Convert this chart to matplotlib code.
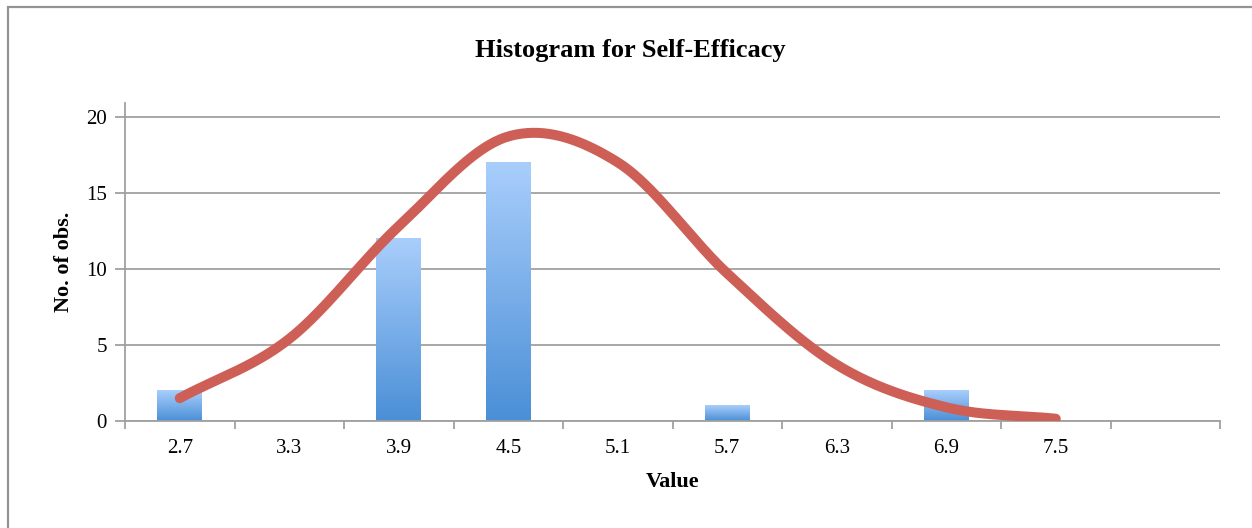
import numpy as np
import matplotlib
matplotlib.use("Agg")
import matplotlib.pyplot as plt
from matplotlib.patches import Rectangle
from matplotlib.colors import LinearSegmentedColormap

categories = ["2.7", "3.3", "3.9", "4.5", "5.1", "5.7", "6.3", "6.9", "7.5", ""]
counts = [2, 0, 12, 17, 0, 1, 0, 2, 0, 0]
curve_vals = [1.5, 5.4, 12.8, 18.7, 17.0, 9.7, 3.7, 0.9, 0.15]

plt.rcParams['font.family'] = ['Liberation Serif', 'DejaVu Serif']

fig = plt.figure(figsize=(12.52, 5.28), dpi=100)
W, H = 1252, 528
ax = fig.add_axes([125 / W, (H - 421) / H, (1220 - 125) / W, (421 - 103) / H])

x = np.arange(len(categories))
bars = ax.bar(x, counts, width=0.41, color='none', zorder=2)
cmap = LinearSegmentedColormap.from_list('g', ['#4a8fd6', '#a9cefc'])
grad = np.linspace(0, 1, 256).reshape(-1, 1)
for b in bars:
    h = b.get_height()
    if h <= 0:
        continue
    x0 = b.get_x()
    ax.imshow(grad, cmap=cmap, origin='lower', aspect='auto',
              extent=[x0, x0 + b.get_width(), 0, h], zorder=2,
              interpolation='bilinear')

# Catmull-Rom smoothing of the curve through the points
px = np.arange(len(curve_vals), dtype=float)
py = np.array(curve_vals, dtype=float)
sx, sy = [], []
n = len(px)
for i in range(n - 1):
    p0 = py[i]; p1 = py[i + 1]
    m0 = (py[i + 1] - py[i - 1]) / 2 if i > 0 else (py[1] - py[0])
    m1 = (py[i + 2] - py[i]) / 2 if i + 2 < n else (py[-1] - py[-2])
    t = np.linspace(0, 1, 40, endpoint=(i == n - 2))
    h00 = 2 * t**3 - 3 * t**2 + 1
    h10 = t**3 - 2 * t**2 + t
    h01 = -2 * t**3 + 3 * t**2
    h11 = t**3 - t**2
    sy.extend(h00 * p0 + h10 * m0 + h01 * p1 + h11 * m1)
    sx.extend(px[i] + t)
ax.plot(sx, sy, color='#cd5f57', lw=7.2, solid_capstyle='round', zorder=3)

ax.set_xlim(-0.5, len(categories) - 0.5)
ax.set_ylim(0, 20.9)
ax.set_yticks([0, 5, 10, 15, 20])
ax.yaxis.grid(True, color='#a0a0a0', lw=1.3)
ax.set_axisbelow(True)

ax.set_xticks(np.arange(-0.5, len(categories), 1.0))
ax.set_xticklabels([])
ax.set_xticks(x, minor=True)
ax.set_xticklabels(categories, minor=True)
ax.tick_params(axis='x', which='major', length=6, width=1.3, color='#a0a0a0')
ax.tick_params(axis='x', which='minor', length=0, pad=13, labelsize=15)
ax.tick_params(axis='y', length=7, width=1.3, color='#a0a0a0', labelsize=15, pad=6)

for s in ['top', 'right']:
    ax.spines[s].set_visible(False)
for s in ['left', 'bottom']:
    ax.spines[s].set_color('#a0a0a0')
    ax.spines[s].set_linewidth(1.3)

ax.set_ylabel('No. of obs.', fontsize=16, fontweight='bold', labelpad=9)
ax.set_xlabel('Value', fontsize=16, fontweight='bold', labelpad=10)
fig.text(630 / W, 1 - 50 / H, 'Histogram for Self-Efficacy', fontsize=19,
         fontweight='bold', ha='center', va='center')

fig.patches.append(Rectangle((8 / W, -0.1), 1.2, 1.1 - 7 / H, transform=fig.transFigure,
                             fill=False, edgecolor='#939393', lw=1.6))

fig.savefig('out.png', dpi=100)
